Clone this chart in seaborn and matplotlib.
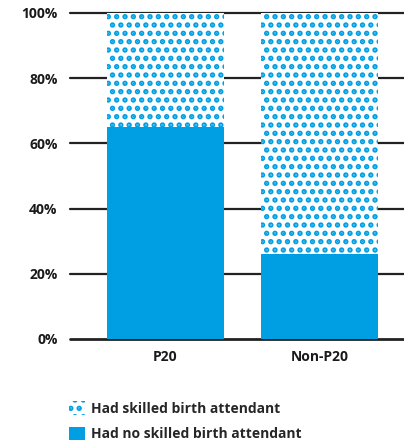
import matplotlib
matplotlib.use("Agg")
import matplotlib.pyplot as plt
import seaborn as sns
import pandas as pd
from matplotlib.patches import Patch

categories = ["P20", "Non-P20"]
skilled = [35, 74]
no_skilled = [65, 26]
yticks = [0, 20, 40, 60, 80, 100]
ytick_labels = ["0%", "20%", "40%", "60%", "80%", "100%"]
legend_labels = ["Had skilled birth attendant", "Had no skilled birth attendant"]

BLUE = "#009FE3"

sns.set_theme(style="white")
plt.rcParams["font.family"] = ["Open Sans", "DejaVu Sans"]
plt.rcParams["hatch.color"] = BLUE
plt.rcParams["hatch.linewidth"] = 2.6

df = pd.DataFrame({
    "cat": categories,
    "total": [s + n for s, n in zip(skilled, no_skilled)],
    "no": no_skilled,
})

fig = plt.figure(figsize=(4.04, 4.47), dpi=100)
ax = fig.add_axes([70 / 404, (447 - 339) / 447, 334 / 404, 326 / 447])

sns.barplot(data=df, x="cat", y="total", color="white", width=0.76,
            ax=ax, saturation=1, zorder=2, hatch="..", edgecolor=BLUE, linewidth=0)
sns.barplot(data=df, x="cat", y="no", color=BLUE, width=0.76,
            ax=ax, saturation=1, zorder=3, linewidth=0)

for y in yticks:
    ax.axhline(y, color="#222222", lw=1.6 if y else 2.0, zorder=1, clip_on=False)

ax.set_ylim(0, 100)
ax.set_xlim(-0.62, 1.55)
ax.set_yticks(yticks)
ax.set_yticklabels(ytick_labels, fontsize=10, fontweight="bold", color="#1a1a1a")
ax.set_xticks(range(len(categories)))
ax.set_xticklabels(categories, fontsize=10, fontweight="bold", color="#1a1a1a")
ax.tick_params(axis="y", length=0, pad=9)
ax.tick_params(axis="x", length=0, pad=8)
ax.set_xlabel("")
ax.set_ylabel("")
for s in ax.spines.values():
    s.set_visible(False)

handles = [
    Patch(facecolor="white", edgecolor=BLUE, hatch="..", linewidth=0),
    Patch(facecolor=BLUE, edgecolor=BLUE, linewidth=0),
]
fig.legend(handles, legend_labels, loc="upper left", bbox_to_anchor=(69 / 404, 1 - 401 / 447),
           frameon=False, borderpad=0, handlelength=1.15, handleheight=1.15,
           handletextpad=0.45, labelspacing=0.8, borderaxespad=0,
           prop={"size": 10, "weight": "bold"})

fig.savefig("out.png", dpi=100)
